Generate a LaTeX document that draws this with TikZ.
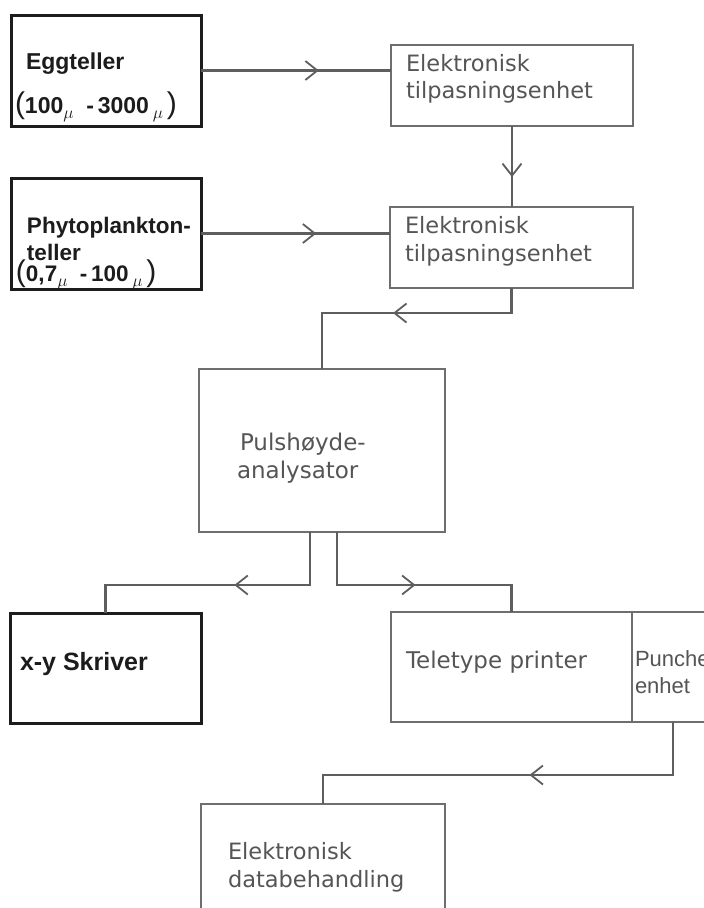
\documentclass[tikz,border=0pt]{standalone}
\usepackage{graphicx}
\usepackage{fontspec}
\setmainfont{Liberation Sans}
\newfontfamily\dejavu{DejaVu Sans}
\usetikzlibrary{arrows.meta,decorations.markings}
\definecolor{boxgray}{HTML}{6E6E6E}
\definecolor{linegray}{HTML}{5E5E5E}
\definecolor{textgray}{HTML}{555555}
\definecolor{inkblack}{HTML}{1C1C1C}
\newcommand{\mysub}{\raisebox{-5pt}{\fontsize{18}{18}\selectfont$\mu$}}
\newcommand{\bigparL}{{\mdseries\fontsize{30}{30}\selectfont(}}
\newcommand{\bigparR}{{\mdseries\fontsize{30}{30}\selectfont)}}
\tikzset{
  darkbox/.style={draw=inkblack, line width=3pt, inner sep=0pt, outer sep=0pt},
  lightbox/.style={draw=boxgray, line width=2.2pt, inner sep=0pt, outer sep=0pt},
  conn/.style={draw=linegray, line width=2.1pt},
  arrowat/.style={postaction={decorate}, decoration={markings, mark=at position #1 with {\arrow[line width=1.8pt, color=linegray]{Straight Barb[length=12pt,width=19pt]}}}},
  lbl/.style={anchor=base west, inner sep=0pt, outer sep=0pt},
  boldtxt/.style={lbl, font=\fontsize{23}{27}\selectfont\bfseries, text=inkblack},
  graytxt/.style={lbl, font=\dejavu\fontsize{22.5}{27}\selectfont, text=textgray},
  narrowtxt/.style={lbl, font=\fontsize{22}{26}\selectfont, text=textgray}
}
\begin{document}
\begin{tikzpicture}[x=1pt,y=-1pt]
\clip (0,0) rectangle (704,908);
\fill[white] (0,0) rectangle (704,908);

% boxes
\node[darkbox, minimum width=190pt, minimum height=111pt] (egg) at (106,70.5) {};
\node[lightbox, minimum width=242pt, minimum height=81pt] (tip1) at (512,85.5) {};
\node[darkbox, minimum width=190pt, minimum height=111pt] (phyto) at (106,233.5) {};
\node[lightbox, minimum width=243pt, minimum height=81pt] (tip2) at (511.5,247.5) {};
\node[lightbox, minimum width=246pt, minimum height=163pt] (puls) at (322,450.5) {};
\node[darkbox, minimum width=191pt, minimum height=110pt] (xy) at (105.5,668) {};
\node[lightbox, minimum width=241pt, minimum height=110pt] (tele) at (511.5,667) {};
\node[lightbox, minimum width=82pt, minimum height=110pt] (punch) at (673,667) {};
\node[lightbox, minimum width=244pt, minimum height=160pt] (edb) at (323,884) {};

% texts
\node[boldtxt] (eggA) at (26,69) {Eggteller};
\node[boldtxt] (eggB) at (15,113) {\bigparL100\mysub\ \ -\,3000\,\mysub\,\bigparR};
\node[boldtxt, font=\fontsize{22.5}{27}\selectfont\bfseries] (phA) at (27,233) {Phytoplankton-};
\node[boldtxt, font=\fontsize{22.5}{27}\selectfont\bfseries] (phB) at (27,260) {teller};
\node[boldtxt, font=\fontsize{22.5}{27}\selectfont\bfseries] (phC) at (16,281) {\bigparL0,7\mysub\ \ -\,100\,\mysub\,\bigparR};
\node[boldtxt, font=\fontsize{25}{27}\selectfont\bfseries] (xyA) at (20,670) {x-y Skriver};

\node[graytxt] (t1a) at (406,71) {Elektronisk};
\node[graytxt] (t1b) at (406,98) {tilpasningsenhet};
\node[graytxt] (t2a) at (405,233) {Elektronisk};
\node[graytxt] (t2b) at (405,261) {tilpasningsenhet};
\node[graytxt, font=\dejavu\fontsize{23}{27}\selectfont] (pa) at (240,450) {Pulshøyde-};
\node[graytxt, font=\dejavu\fontsize{23}{27}\selectfont] (pb) at (237,478) {analysator};
\node[graytxt, font=\dejavu\fontsize{23}{27}\selectfont] (tt) at (406,668) {Teletype printer};
\node[narrowtxt] (pua) at (635,666) {Punche};
\node[narrowtxt] (pub) at (635,693) {enhet};
\node[graytxt] (ea) at (228,859) {Elektronisk};
\node[graytxt] (eb) at (228,887) {databehandling};

% connectors
\draw[conn, arrowat=0.62] (egg.east) -- (egg.east -| tip1.west);
\draw[conn, arrowat=0.63] (tip1.south) -- (tip1.south |- tip2.north);
\draw[conn, arrowat=0.61] (phyto.east) -- (phyto.east -| tip2.west);

\coordinate (c1) at (tip2.south |- 0,313);
\coordinate (c2) at (puls.north |- 0,313);
\draw[conn] (tip2.south) -- (c1) -- (c2) -- (puls.north);
\draw[conn, arrowat=0.625] (c1) -- (c2);

\coordinate (pl) at ([xshift=-12pt]puls.south);
\coordinate (pr) at ([xshift=15pt]puls.south);
\coordinate (l1) at (pl |- 0,585);
\coordinate (l2) at (xy.north |- 0,585);
\draw[conn] (pl) -- (l1) -- (l2) -- (xy.north);
\draw[conn, arrowat=0.37] (l1) -- (l2);
\coordinate (r1) at (pr |- 0,585);
\coordinate (r2) at (tele.north |- 0,585);
\draw[conn] (pr) -- (r1) -- (r2) -- (tele.north);
\draw[conn, arrowat=0.45] (r1) -- (r2);

\coordinate (b1) at (punch.south |- 0,775);
\coordinate (b2) at (edb.north |- 0,775);
\draw[conn] (punch.south) -- (b1) -- (b2) -- (edb.north);
\draw[conn, arrowat=0.41] (b1) -- (b2);
\end{tikzpicture}
\end{document}
